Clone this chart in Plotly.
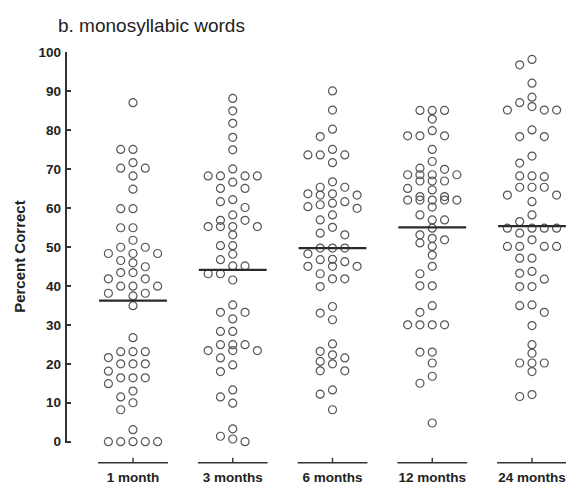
import plotly.graph_objects as go

# ---------------- data ----------------
title_text = "b. monosyllabic words"
y_title = "Percent Correct"
categories = ["1 month", "3 months", "6 months", "12 months", "24 months"]
y_ticks = [0, 10, 20, 30, 40, 50, 60, 70, 80, 90, 100]

one_month = [87, 75, 75, 71.6, 70.2, 70.2, 68.2, 64.8, 59.8, 59.8, 54.9, 54.9, 51.7,
             49.9, 49.9, 48.3, 48.3, 48.3, 46.5, 45.9, 44.9, 43.4, 43.4, 41.8, 41.8,
             39.9, 39.9, 39.9, 38.1, 38.1, 37.4, 34.9, 26.7, 23.1, 23.1, 23.1, 21.6,
             20, 20, 20, 18.1, 16.4, 16.4, 16.4, 14.9, 13, 11.5, 10, 8.2, 3.1,
             0, 0, 0, 0, 0]
three_months = [88.1, 84.9, 81.7, 78.1, 74.9, 70.0, 68.2, 68.2, 68.2, 68.2, 66.6, 65.0,
                65.0, 62.1, 61.6, 60.1, 58.2, 56.8, 56.8, 55.2, 55.2, 55.2, 55.2, 53.1,
                50.3, 50.3, 48.1, 46.7, 45.1, 45.1, 43.1, 43.1, 41.5, 35.1, 33.2, 33.2,
                31.5, 28.3, 28.3, 24.9, 24.9, 24.9, 23.4, 23.4, 23.4, 21.5, 19.7, 18.0,
                13.3, 11.5, 9.9, 3.3, 1.4, 0.7, 0]
six_months = [90, 85.1, 80.2, 78.3, 75, 73.6, 73.6, 73.6, 71.6, 66.7, 65.3, 65.3, 63.6,
              63.6, 63.3, 63.3, 61.6, 61.2, 60.8, 60.3, 59.9, 58.2, 56.9, 55.0, 53.5,
              53.1, 49.7, 49.7, 49.7, 48.2, 46.8, 46.7, 46.2, 45.0, 45.0, 45.0, 43.1,
              41.8, 41.8, 39.8, 34.7, 33.0, 31.3, 25.1, 23.2, 22.3, 21.5, 20.6, 20.0,
              18.2, 18.2, 13.3, 12.2, 8.2]
twelve_months = [85, 85, 85, 82.8, 79.8, 78.5, 78.5, 78.5, 75, 71.9, 70.2, 69.9, 68.5,
                 68.5, 68.5, 68.5, 66.9, 66.9, 66.9, 65, 64.6, 62.9, 62.9, 62, 62, 62,
                 62, 62, 60.2, 58.2, 56.9, 56.9, 54.8, 53.1, 52.2, 51.8, 51.0, 50.1,
                 47.9, 45, 43.1, 40, 40, 34.9, 33.2, 30, 30, 30, 30, 23, 23, 20.2, 16.8,
                 15, 4.8]
twentyfour_months = [98.1, 96.7, 92, 88.4, 87, 86, 85.1, 85.1, 85.1, 80, 78.3, 78.3,
                     73.3, 71.5, 68.2, 68.2, 68, 65.3, 65.3, 65.3, 63.3, 63.3, 61.6,
                     58.2, 56.5, 54.8, 54.8, 54.8, 54.8, 53.5, 51.8, 50.1, 50.1, 50.1,
                     50.1, 47.1, 47.1, 43.7, 43.2, 41.7, 39.8, 39.8, 35.1, 34.9, 33.2,
                     29.8, 24.9, 22.7, 20.2, 20.2, 20.2, 18, 12.1, 11.6]
means = [36.2, 44.1, 49.7, 55.0, 55.3]

groups = [one_month, three_months, six_months, twelve_months, twentyfour_months]

# ---------------- layout constants ----------------
W, H = 566, 484
ML, MT = 65, 52
PX_PER_UNIT_Y = 3.9
PX_PER_CAT = 99.75
Y_MIN, Y_MAX = -7, 100
X_MIN = -(133 - ML) / PX_PER_CAT
X_MAX = X_MIN + (W - ML) / PX_PER_CAT
plot_h = (Y_MAX - Y_MIN) * PX_PER_UNIT_Y
MB = H - MT - plot_h

SLOT_PX = 12.3     # column spacing of the swarm (px)
MIN_GAP = 2.1      # min vertical gap (value units) within one swarm column
MAX_SLOT = 2


def swarm_offsets(values):
    """Beeswarm on a slot grid: each point goes to the slot nearest the centre
    whose column has no point closer than MIN_GAP; if none within +-MAX_SLOT,
    the least crowded slot is used."""
    order = sorted(range(len(values)), key=lambda i: -values[i])
    placed = {}
    offs = [0.0] * len(values)
    cand = [0]
    for k in range(1, MAX_SLOT + 1):
        cand += [-k, k]
    for i in order:
        v = values[i]
        best, best_d = None, -1.0
        for s in cand:
            d = min([abs(v - w) for w in placed.get(s, [])] + [99.0])
            if d >= MIN_GAP:
                best = s
                break
            if d > best_d:
                best, best_d = s, d
        placed.setdefault(best, []).append(v)
        offs[i] = best * SLOT_PX / PX_PER_CAT
    return offs


fig = go.Figure()
for ci, vals in enumerate(groups):
    offs = swarm_offsets(vals)
    fig.add_trace(go.Scatter(
        x=[ci + o for o in offs], y=vals, mode="markers",
        marker=dict(symbol="circle-open", size=8, color="#555555",
                    line=dict(width=1.2, color="#555555")),
        cliponaxis=False, showlegend=False, hoverinfo="y"))

shapes = []
for ci, m in enumerate(means):
    shapes.append(dict(type="line", xref="x", yref="y", x0=ci - 0.34, x1=ci + 0.34,
                       y0=m, y1=m, line=dict(color="#2a2a2a", width=2.2)))
    # category baseline segment with centre tick
    yseg = Y_MIN + 1.6
    shapes.append(dict(type="line", xref="x", yref="y", x0=ci - 0.35, x1=ci + 0.35,
                       y0=yseg, y1=yseg, line=dict(color="#333333", width=1.6)))
    shapes.append(dict(type="line", xref="x", yref="y", x0=ci, x1=ci,
                       y0=yseg, y1=yseg + 1.3, line=dict(color="#333333", width=1.4)))
# y axis bracket line (0..100)
shapes.append(dict(type="line", xref="paper", yref="y", x0=0.002, x1=0.002,
                   y0=0, y1=100, line=dict(color="#333333", width=2)))

font_family = "Liberation Sans, Arial, Helvetica, sans-serif"

fig.update_layout(
    width=W, height=H,
    margin=dict(l=ML, r=0, t=MT, b=MB, autoexpand=False),
    paper_bgcolor="white", plot_bgcolor="white",
    font=dict(family=font_family, color="#222222"),
    shapes=shapes,
    title=dict(text=title_text, x=58 / W, xanchor="left", xref="container",
               y=1 - 25 / H, yanchor="middle", yref="container",
               font=dict(size=19, color="#222222", family=font_family)),
    xaxis=dict(range=[X_MIN, X_MAX], tickvals=list(range(len(categories))),
               ticktext=categories, showgrid=False, zeroline=False, showline=False,
               ticks="", automargin=False, ticklabelstandoff=-2,
               ticklabeloverflow="allow",
               tickfont=dict(size=13.5, weight="bold", color="#222222")),
    yaxis=dict(range=[Y_MIN, Y_MAX], tickvals=y_ticks, showgrid=False, zeroline=False,
               showline=False, ticks="inside", ticklen=6, tickwidth=1.6,
               tickcolor="#333333", automargin=False, ticklabelstandoff=3,
               tickfont=dict(size=13.5, weight="bold", color="#222222")),
    annotations=[dict(text=y_title, textangle=-90, xref="paper", yref="paper",
                      x=(20 - ML) / (W - ML), y=(MT + plot_h - 257) / plot_h,
                      xanchor="center", yanchor="middle", showarrow=False,
                      font=dict(size=15, weight="bold", color="#222222"))],
)

fig.write_html("out.html", config={"displayModeBar": False},
               post_script="document.body.style.margin='0';document.body.style.padding='0';")
